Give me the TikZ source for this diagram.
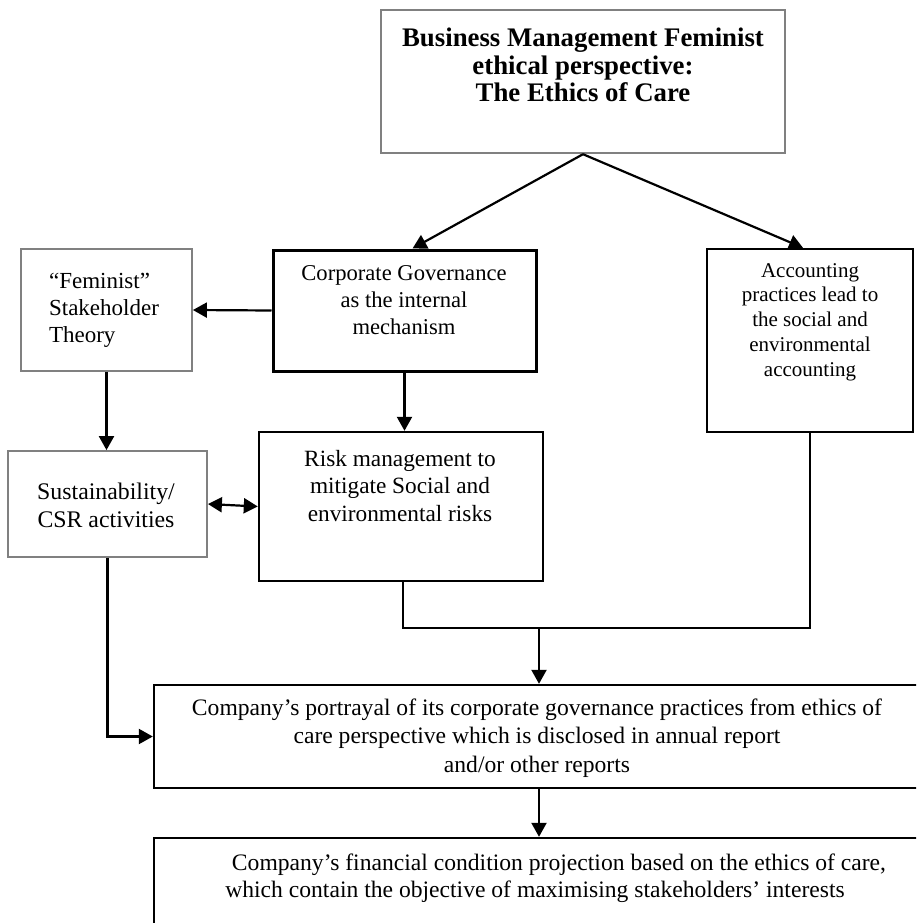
\documentclass[tikz,border=0pt]{standalone}
\usepackage{fontspec}
\setmainfont{Liberation Serif}
\usepackage{tikz}
\usetikzlibrary{arrows.meta}
\tikzset{>={Triangle[length=14pt,width=15pt]}}

\begin{document}
\begin{tikzpicture}[x=1pt,y=-1pt,font=\fontsize{23}{27}\selectfont,
	blackbox/.style={draw,line width=2.4pt,inner sep=0pt},
	greybox/.style={draw=black!50,line width=1.8pt,inner sep=0pt},
	txt/.style={inner sep=0pt,align=center},
	link/.style={line width=2.2pt}]
	\clip (0,0) rectangle (916,923);
	% boxes
	\node[greybox,line width=2.4pt,minimum width=404,minimum height=143] (top) at (583,81.5) {};
	\node[greybox,minimum width=171,minimum height=122] (fem) at (106.5,310) {};
	\node[blackbox,line width=3pt,minimum width=263,minimum height=121] (cg) at (404.5,310.5) {};
	\node[blackbox,minimum width=206,minimum height=183] (acc) at (810,340.5) {};
	\node[greybox,minimum width=199,minimum height=106] (sust) at (107.5,504) {};
	\node[blackbox,minimum width=284,minimum height=149] (risk) at (401,506.5) {};
	\node[blackbox,minimum width=776,minimum height=103] (port) at (542,736.5) {};
	\node[blackbox,minimum width=776,minimum height=97] (fin) at (542,886.5) {};
	% texts
	\node[txt,font=\fontsize{26.8}{27.5}\bfseries\selectfont] (toptxt) at (583,65)
		{Business Management Feminist\\ethical perspective:\\The Ethics of Care};
	\node[txt,align=left] (femtxt) at (104,310) {“Feminist”\\Stakeholder\\Theory};
	\node[txt,font=\fontsize{22.6}{27}\selectfont] (cgtxt) at (404,300) {Corporate Governance\\as the internal\\mechanism};
	\node[txt,font=\fontsize{21}{24.7}\selectfont] (acctxt) at (810,322)
		{Accounting\\practices lead to\\the social and\\environmental\\accounting};
	\node[txt,font=\fontsize{23.8}{28}\selectfont] (susttxt) at (106,505) {Sustainability/\\CSR activities};
	\node[txt,font=\fontsize{23.3}{27.5}\selectfont] (risktxt) at (400,486) {Risk management to\\mitigate Social and\\environmental risks};
	\node[txt,font=\fontsize{23.6}{28.5}\selectfont] (porttxt) at (537,738) {Company’s portrayal of its corporate governance practices from ethics of\\care perspective which is disclosed in annual report\\and/or other reports};
	\node[txt,font=\fontsize{23.6}{27}\selectfont] (fintxt) at (535,878.5) {\hspace*{48pt}Company’s financial condition projection based on the ethics of care,\\which contain the objective of maximising stakeholders’ interests};
	% connectors
	\coordinate (join) at (539,628);
	\draw[link,->] (top.south) -- ([xshift=8pt]cg.north);
	\draw[link,->] (top.south) -- ([xshift=-7pt]acc.north);
	\draw[link,->] (cg.west) -- (fem.east);
	\draw[link,->] (fem.south) -- (fem.south |- sust.north);
	\draw[link,->] (cg.south) -- (cg.south |- risk.north);
	\draw[link,<->] (sust.east) -- (risk.west);
	\draw[link] ([xshift=2pt]risk.south) |- (join) -| (acc.south);
	\draw[link,->] (join) -- (join |- port.north);
	\draw[link,->] (join |- port.south) -- (join |- fin.north);
	\draw[link,->] (sust.south) |- (port.west);
\end{tikzpicture}
\end{document}
